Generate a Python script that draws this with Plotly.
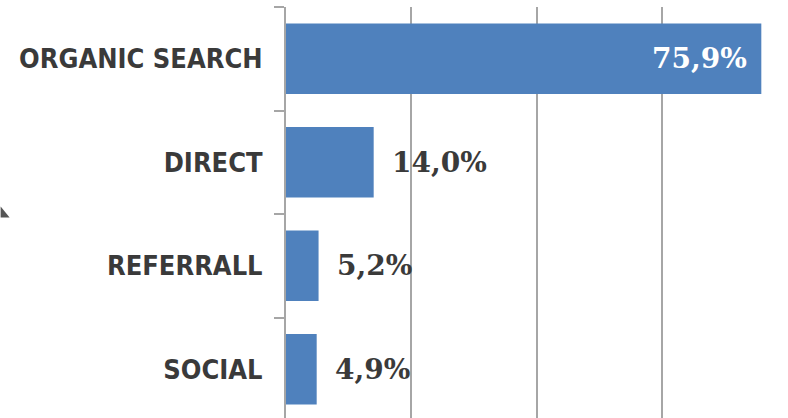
import plotly.graph_objects as go

categories = ["ORGANIC SEARCH", "DIRECT", "REFERRALL", "SOCIAL"]
values = [75.9, 14.0, 5.2, 4.9]
value_labels = ["75,9%", "14,0%", "5,2%", "4,9%"]
inside_threshold = 50

BAR = "#4f81bd"
GRID = "#a6a6a6"
TXT = "#3a3a3a"
LABEL_FONT = "DejaVu Sans Condensed, DejaVu Sans, sans-serif"
NUM_FONT = "DejaVu Serif, serif"

fig = go.Figure(go.Bar(
    y=categories, x=values, orientation="h",
    marker=dict(color=BAR, line=dict(width=0)),
    width=0.68, hoverinfo="skip",
))

ann = []
for c, v, t in zip(categories, values, value_labels):
    inside = v > inside_threshold
    ann.append(dict(
        x=v, y=c, xref="x", yref="y", text="<b>" + t + "</b>", showarrow=False,
        xanchor="right" if inside else "left", xshift=-12 if inside else 16,
        yanchor="middle",
        font=dict(family=NUM_FONT, size=28, color="white" if inside else TXT),
    ))

fig.update_layout(
    width=788, height=418,
    margin=dict(l=286, r=1, t=7, b=0),
    paper_bgcolor="white", plot_bgcolor="white",
    showlegend=False,
    annotations=ann,
    xaxis=dict(range=[0, 80], dtick=20, showgrid=True, gridcolor=GRID, gridwidth=1.6,
               showticklabels=False, zeroline=False, showline=False, ticks=""),
    yaxis=dict(categoryorder="array", categoryarray=categories,
               range=[3.471, -0.5], autorange=False,
               showline=True, linecolor=GRID, linewidth=2,
               ticks="outside", tickson="boundaries", ticklen=10, tickcolor=GRID, tickwidth=2,
               ticklabelstandoff=16,
               tickfont=dict(family=LABEL_FONT, size=27, color=TXT, weight="bold"),
               showgrid=False),
    shapes=[dict(type="path", xref="paper", yref="paper",
                 path="M -0.5696 0.5144 L -0.5517 0.4880 L -0.5696 0.4880 Z",
                 fillcolor="#555555", line=dict(width=0))],
)

fig.write_html("out.html")
